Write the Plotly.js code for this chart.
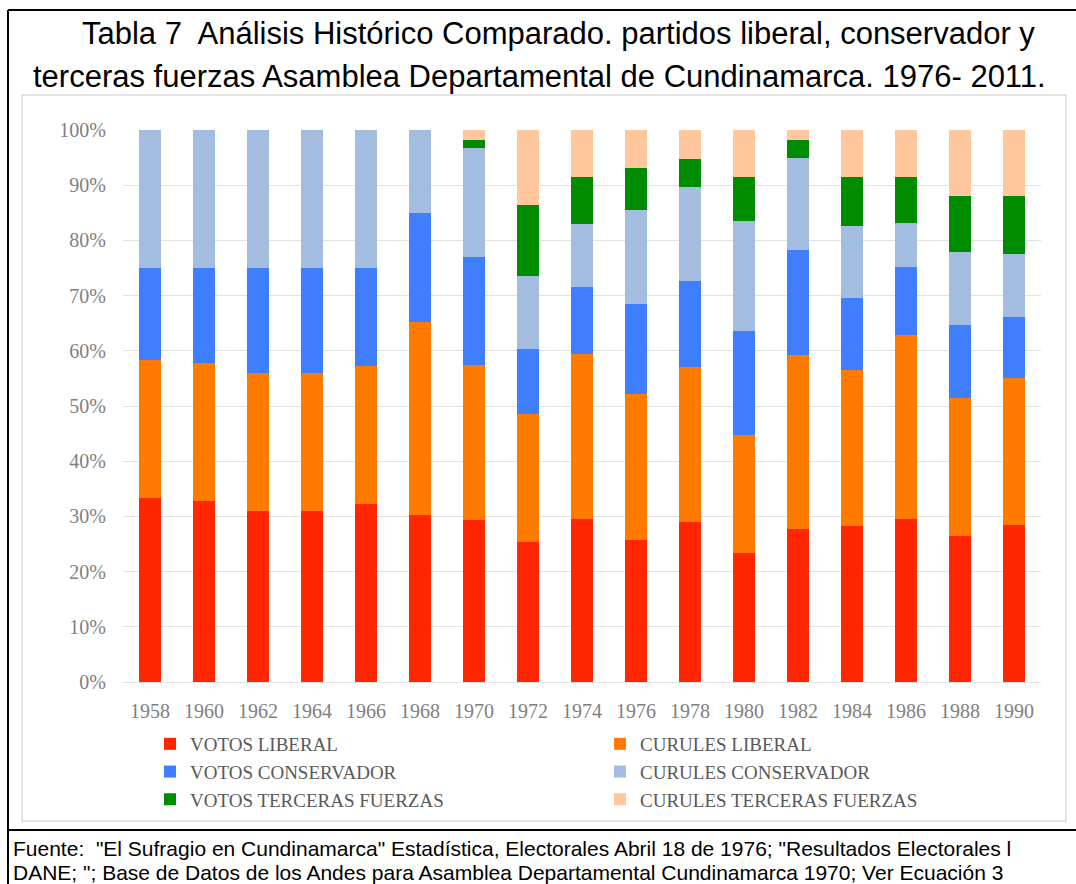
<!DOCTYPE html>
<html>
<head>
<meta charset="utf-8">
<script src="https://cdn.plot.ly/plotly-3.0.1.min.js"></script>
<style>
  html, body { margin: 0; padding: 0; background: #ffffff; }
  #chart { width: 1076px; height: 884px; }
</style>
</head>
<body>
<div id="chart"></div>
<script>
// Election years on the category axis
const years = ['1958', '1960', '1962', '1964', '1966', '1968', '1970', '1972', '1974',
               '1976', '1978', '1980', '1982', '1984', '1986', '1988', '1990'];

// Share of the combined (votes + seats) total, in percent, stacked bottom-up
const votosLiberal       = [33.3, 32.8, 31.0, 31.0, 32.3, 30.3, 29.3, 25.3, 29.5, 25.7, 29.0, 23.3, 27.7, 28.2, 29.5, 26.4, 28.4];
const curulesLiberal     = [25.0, 25.0, 25.0, 25.0, 25.0, 35.0, 28.1, 23.2, 29.9, 26.5, 28.1, 21.5, 31.5, 28.3, 33.4, 25.1, 26.7];
const votosConservador   = [16.7, 17.2, 19.0, 19.0, 17.7, 19.7, 19.6, 11.8, 12.1, 16.3, 15.6, 18.8, 19.0, 13.0, 12.2, 13.2, 11.1];
const curulesConservador = [25.0, 25.0, 25.0, 25.0, 25.0, 15.0, 19.7, 13.2, 11.5, 17.0, 17.0, 19.9, 16.8, 13.2,  8.1, 13.2, 11.4];
const votosTerceras      = [ 0.0,  0.0,  0.0,  0.0,  0.0,  0.0,  1.4, 13.0,  8.4,  7.7,  5.0,  7.9,  3.2,  8.7,  8.2, 10.2, 10.5];
const curulesTerceras    = [ 0.0,  0.0,  0.0,  0.0,  0.0,  0.0,  1.9, 13.5,  8.6,  6.8,  5.3,  8.6,  1.8,  8.6,  8.6, 11.9, 11.9];

const seriesNames = ['VOTOS LIBERAL', 'CURULES LIBERAL', 'VOTOS CONSERVADOR',
                     'CURULES CONSERVADOR', 'VOTOS TERCERAS FUERZAS', 'CURULES TERCERAS FUERZAS'];
const seriesValues = [votosLiberal, curulesLiberal, votosConservador,
                      curulesConservador, votosTerceras, curulesTerceras];
const seriesColors = ['#FF2600', '#FF7B00', '#3F7FFF', '#A2BDE0', '#008C00', '#FFC79B'];

const titleLines = [
  'Tabla 7  Análisis Histórico Comparado. partidos liberal, conservador y',
  'terceras fuerzas Asamblea Departamental de Cundinamarca. 1976- 2011.'
];
const sourceLines = [
  'Fuente:  "El Sufragio en Cundinamarca" Estadística, Electorales Abril 18 de 1976; "Resultados Electorales l',
  'DANE; "; Base de Datos de los Andes para Asamblea Departamental Cundinamarca 1970; Ver Ecuación 3'
];

// Page geometry (pixels) of the plotting area
const W = 1076, H = 884;
const M = { l: 123, r: 35, t: 130, b: 202 };
const PW = W - M.l - M.r, PH = H - M.t - M.b;
const px = x => (x - M.l) / PW;          // page x -> paper x
const py = y => (H - M.b - y) / PH;      // page y -> paper y

const traces = seriesNames.map((name, i) => ({
  type: 'bar',
  name: name,
  x: years,
  y: seriesValues[i],
  marker: { color: seriesColors[i], line: { width: 0 } },
  hoverinfo: 'x+y+name'
}));

const tickFont = { family: '"Liberation Serif", "Times New Roman", serif', size: 20, color: '#7f7f7f' };
const sans = '"Liberation Sans", Arial, sans-serif';

const layout = {
  width: W,
  height: H,
  margin: M,
  paper_bgcolor: '#ffffff',
  plot_bgcolor: '#ffffff',
  barmode: 'stack',
  bargap: 0.61,
  showlegend: true,
  legend: {
    orientation: 'h',
    xref: 'container', yref: 'container',
    x: 150 / W, xanchor: 'left',
    y: 1 - 725 / H, yanchor: 'top',
    entrywidth: 405, entrywidthmode: 'pixels',
    traceorder: 'normal',
    font: { family: '"Liberation Serif", "Times New Roman", serif', size: 19, color: '#595959' },
    bgcolor: 'rgba(0,0,0,0)'
  },
  xaxis: {
    type: 'category',
    tickfont: tickFont,
    showgrid: false,
    showline: false,
    ticks: '',
    ticklabelstandoff: 15,
    fixedrange: true
  },
  yaxis: {
    range: [0, 100],
    dtick: 10,
    ticksuffix: '%',
    tickfont: tickFont,
    showgrid: true,
    gridcolor: '#e2e2e2',
    gridwidth: 1,
    zeroline: true,
    zerolinecolor: '#e2e2e2',
    zerolinewidth: 1,
    ticks: '',
    ticklabelstandoff: 16,
    fixedrange: true
  },
  shapes: [
    // outer frame: left and top rules
    { type: 'line', xref: 'paper', yref: 'paper', x0: px(8), x1: px(8), y0: py(10), y1: py(H + 2),
      line: { color: '#000000', width: 2 } },
    { type: 'line', xref: 'paper', yref: 'paper', x0: px(8), x1: px(W + 2), y0: py(10), y1: py(10),
      line: { color: '#000000', width: 2 } },
    // rule above the source note
    { type: 'line', xref: 'paper', yref: 'paper', x0: px(8), x1: px(W + 2), y0: py(830), y1: py(830),
      line: { color: '#000000', width: 2 } },
    // light frame around the chart
    { type: 'rect', xref: 'paper', yref: 'paper', x0: px(22), x1: px(1066), y0: py(95), y1: py(821),
      line: { color: '#dadada', width: 1.5 }, fillcolor: 'rgba(0,0,0,0)' }
  ],
  annotations: [
    { xref: 'paper', yref: 'paper', x: px(558), y: py(33), xanchor: 'center', yanchor: 'middle',
      text: titleLines[0], showarrow: false,
      font: { family: sans, size: 31, color: '#000000' } },
    { xref: 'paper', yref: 'paper', x: px(539), y: py(76), xanchor: 'center', yanchor: 'middle',
      text: titleLines[1], showarrow: false,
      font: { family: sans, size: 31, color: '#000000' } },
    { xref: 'paper', yref: 'paper', x: px(11), y: py(848), xanchor: 'left', yanchor: 'middle',
      text: sourceLines[0], showarrow: false,
      font: { family: sans, size: 21, color: '#000000' } },
    { xref: 'paper', yref: 'paper', x: px(11), y: py(873), xanchor: 'left', yanchor: 'middle',
      text: sourceLines[1], showarrow: false,
      font: { family: sans, size: 21, color: '#000000' } }
  ],
  hovermode: 'closest'
};

Plotly.newPlot('chart', traces, layout, { displayModeBar: false });
</script>
</body>
</html>
